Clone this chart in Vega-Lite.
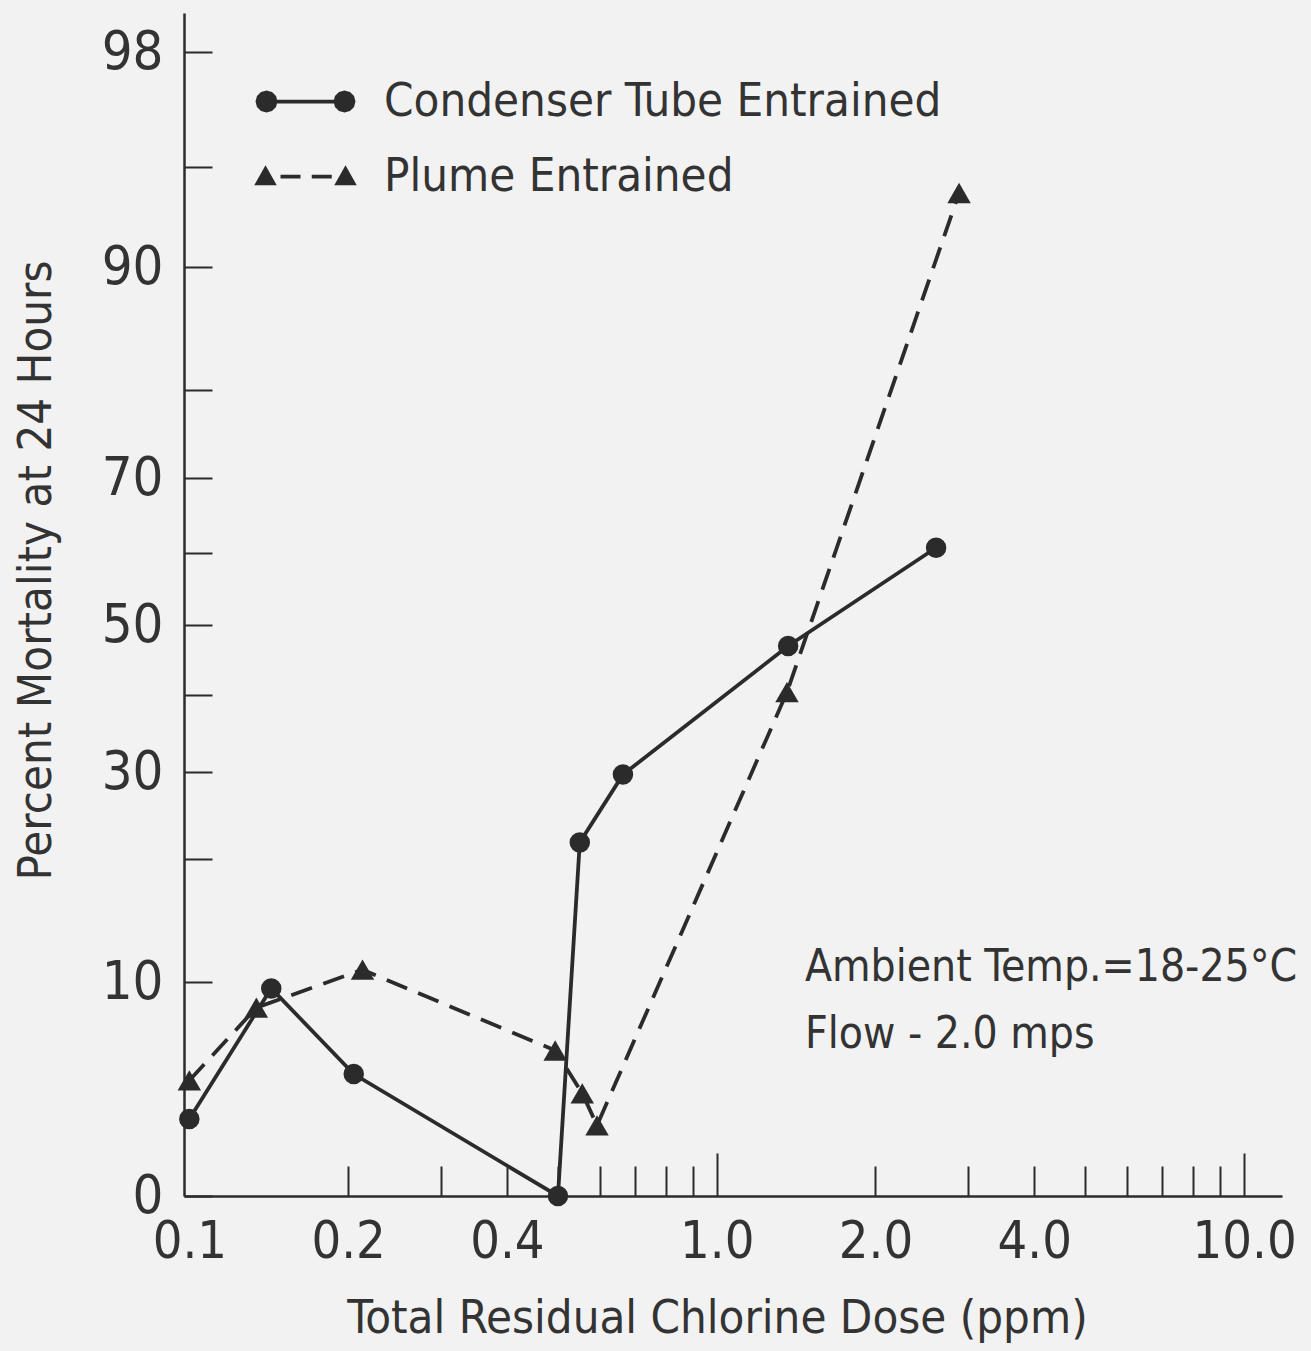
{
  "$schema": "https://vega.github.io/schema/vega-lite/v6.json",
  "width": 1098,
  "height": 1183,
  "autosize": "none",
  "padding": {"left": 184, "top": 13, "right": 29, "bottom": 155},
  "background": "#f2f2f2",
  "config": {
    "view": {"stroke": null},
    "font": "DejaVu Sans Condensed, DejaVu Sans, sans-serif"
  },
  "datasets": {
    "mortality": [
      {"series": "Condenser Tube Entrained", "dose": 0.1, "mortality": 3.6},
      {"series": "Condenser Tube Entrained", "dose": 0.143, "mortality": 9.7},
      {"series": "Condenser Tube Entrained", "dose": 0.205, "mortality": 5.7},
      {"series": "Condenser Tube Entrained", "dose": 0.5, "mortality": 0},
      {"series": "Condenser Tube Entrained", "dose": 0.55, "mortality": 21.9},
      {"series": "Condenser Tube Entrained", "dose": 0.664, "mortality": 29.7},
      {"series": "Condenser Tube Entrained", "dose": 1.366, "mortality": 47.0},
      {"series": "Condenser Tube Entrained", "dose": 2.606, "mortality": 60.7},
      {"series": "Plume Entrained", "dose": 0.1, "mortality": 5.4},
      {"series": "Plume Entrained", "dose": 0.134, "mortality": 8.8},
      {"series": "Plume Entrained", "dose": 0.213, "mortality": 11.0},
      {"series": "Plume Entrained", "dose": 0.494, "mortality": 6.8},
      {"series": "Plume Entrained", "dose": 0.556, "mortality": 4.8},
      {"series": "Plume Entrained", "dose": 0.593, "mortality": 3.3},
      {"series": "Plume Entrained", "dose": 1.359, "mortality": 40.4},
      {"series": "Plume Entrained", "dose": 2.881, "mortality": 93.7}
    ],
    "notes": [
      {"note": "Ambient Temp.=18-25°C", "dose": 1.47, "mortality": 10.09},
      {"note": "Flow - 2.0 mps", "dose": 1.47, "mortality": 6.9}
    ]
  },
  "data": {"name": "mortality"},
  "layer": [
    {
      "transform": [{"filter": "datum.series === 'Condenser Tube Entrained'"}],
      "mark": {"type": "line", "strokeWidth": 3.8, "color": "#2b2b2b"},
      "encoding": {
        "x": {
          "field": "dose",
          "type": "quantitative",
          "scale": {"type": "log", "domain": [0.0977, 11.8], "nice": false},
          "axis": {
            "values": [0.1, 0.2, 0.3, 0.4, 0.5, 0.6, 0.7, 0.8, 0.9, 1, 2, 3, 4, 5, 6, 7, 8, 9, 10],
            "labelExpr": "indexof([0.1,0.2,0.4,1,2,4,10], datum.value) >= 0 ? format(datum.value, '.1f') : ''",
            "tickSize": {"condition": {"test": "datum.value === 1 || datum.value === 10", "value": -43}, "value": -30},
            "labelPadding": {"condition": {"test": "datum.value === 1 || datum.value === 10", "value": 63}, "value": 50},
            "tickOpacity": {"condition": {"test": "datum.value < 0.15", "value": 0}, "value": 1},
            "labelFlush": false,
            "labelOverlap": false,
            "labelFontSize": 52,
            "labelColor": "#333333",
            "title": "Total Residual Chlorine Dose (ppm)",
            "titleFontSize": 47,
            "titleFontWeight": "normal",
            "titleColor": "#333333",
            "titlePadding": 28,
            "titleX": 533,
            "domainColor": "#2b2b2b",
            "domainWidth": 2.5,
            "tickColor": "#2b2b2b",
            "tickWidth": 2,
            "grid": false
          }
        },
        "y": {
          "field": "mortality",
          "type": "quantitative",
          "scale": {
            "domain": [0, 10, 20, 30, 40, 50, 60, 70, 80, 90, 95, 98, 98.6],
            "range": [1183, 969, 846, 759, 682, 612, 540, 465, 377, 254, 154, 39, 0],
            "zero": false,
            "nice": false
          },
          "axis": {
            "values": [0, 10, 20, 30, 40, 50, 60, 70, 80, 90, 95, 98],
            "labelExpr": "indexof([0,10,30,50,70,90,98], datum.value) >= 0 ? datum.label : ''",
            "tickSize": -28,
            "labelPadding": 49,
            "labelOverlap": false,
            "labelFlush": false,
            "labelFontSize": 54,
            "labelColor": "#333333",
            "title": "Percent Mortality at 24 Hours",
            "titleFontSize": 47,
            "titleFontWeight": "normal",
            "titleColor": "#333333",
            "titlePadding": 41,
            "titleY": 557,
            "domainColor": "#2b2b2b",
            "domainWidth": 2.5,
            "tickColor": "#2b2b2b",
            "tickWidth": 2,
            "grid": false
          }
        }
      }
    },
    {
      "transform": [{"filter": "datum.series === 'Plume Entrained'"}],
      "mark": {"type": "line", "strokeWidth": 3.8, "color": "#2b2b2b", "strokeDash": [22, 12]},
      "encoding": {
        "x": {"field": "dose", "type": "quantitative"},
        "y": {"field": "mortality", "type": "quantitative"}
      }
    },
    {
      "transform": [{"filter": "datum.series === 'Condenser Tube Entrained'"}],
      "mark": {"type": "point", "shape": "circle", "filled": true, "size": 420, "color": "#2b2b2b", "opacity": 1},
      "encoding": {
        "x": {"field": "dose", "type": "quantitative"},
        "y": {"field": "mortality", "type": "quantitative"}
      }
    },
    {
      "transform": [{"filter": "datum.series === 'Plume Entrained'"}],
      "mark": {"type": "point", "shape": "triangle-up", "filled": true, "size": 550, "color": "#2b2b2b", "opacity": 1},
      "encoding": {
        "x": {"field": "dose", "type": "quantitative"},
        "y": {"field": "mortality", "type": "quantitative"}
      }
    },
    {
      "data": {"name": "notes"},
      "mark": {"type": "text", "align": "left", "baseline": "alphabetic", "fontSize": 44, "color": "#333333"},
      "encoding": {
        "x": {"field": "dose", "type": "quantitative"},
        "y": {"field": "mortality", "type": "quantitative"},
        "text": {"field": "note", "type": "nominal"}
      }
    },
    {
      "mark": {"type": "point", "filled": true, "opacity": 0, "color": "#2b2b2b"},
      "encoding": {
        "x": {"field": "dose", "type": "quantitative"},
        "y": {"field": "mortality", "type": "quantitative"},
        "shape": {
          "field": "series",
          "type": "nominal",
          "scale": {
            "domain": ["Condenser Tube Entrained", "Plume Entrained"],
            "range": [
              "M-1.12,0L-1.179,0.22L-1.34,0.381L-1.56,0.44L-1.78,0.381L-1.941,0.22L-2,0L-1.941,-0.22L-1.78,-0.381L-1.56,-0.44L-1.34,-0.381L-1.179,-0.22ZM-1.56,-0.075L1.56,-0.075L1.56,0.075L-1.56,0.075ZM2,0L1.941,0.22L1.78,0.381L1.56,0.44L1.34,0.381L1.179,0.22L1.12,0L1.179,-0.22L1.34,-0.381L1.56,-0.44L1.78,-0.381L1.941,-0.22Z",
              "M-2.05,0.35L-1.15,0.35L-1.6,-0.45ZM-1.0,-0.075L-0.2,-0.075L-0.2,0.075L-1.0,0.075ZM0.25,-0.075L1.05,-0.075L1.05,0.075L0.25,0.075ZM1.15,0.35L2.05,0.35L1.6,-0.45Z"
            ]
          },
          "legend": {
            "title": null,
            "orient": "none",
            "legendX": 96,
            "legendY": 63,
            "padding": 0,
            "symbolSize": 2500,
            "symbolOffset": 0,
            "symbolFillColor": "#2b2b2b",
            "symbolStrokeColor": "#2b2b2b",
            "symbolStrokeWidth": 1,
            "symbolOpacity": 1,
            "labelFontSize": 47,
            "labelColor": "#333333",
            "labelOffset": 53,
            "labelLimit": 0,
            "rowPadding": 26,
            "encode": {
              "symbols": {
                "update": {
                  "fill": {"value": "#2b2b2b"},
                  "fillOpacity": {"value": 1},
                  "opacity": {"value": 1}
                }
              }
            }
          }
        }
      }
    }
  ]
}
